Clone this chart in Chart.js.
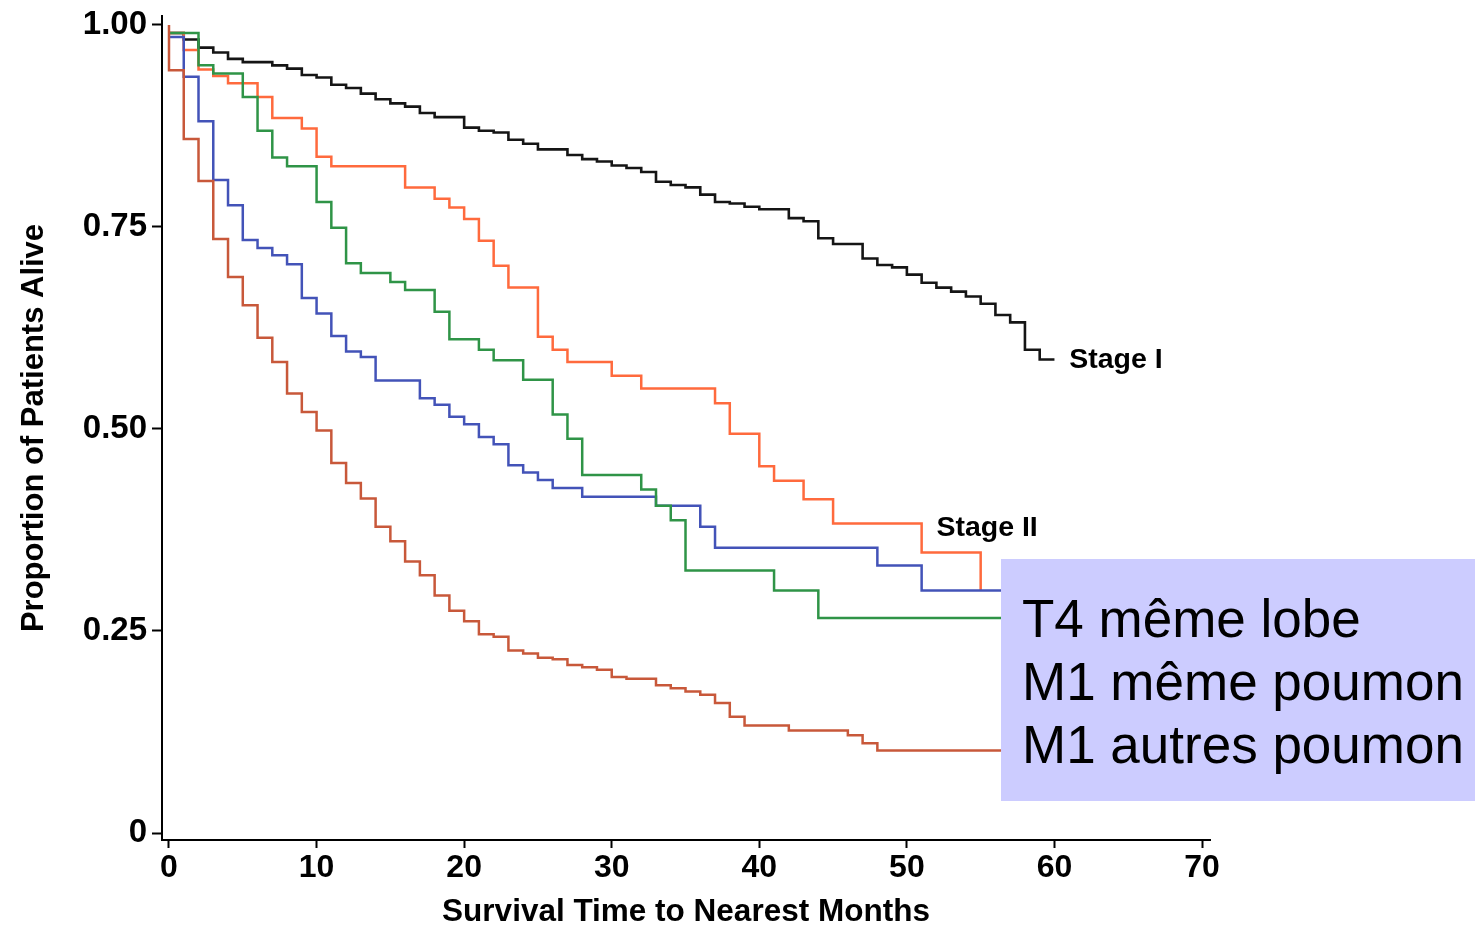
<!DOCTYPE html>
<html><head><meta charset="utf-8">
<script src="https://cdn.jsdelivr.net/npm/chart.js@4"></script>
<style>html,body{margin:0;padding:0;background:#fff;overflow:hidden}</style>
</head><body>
<canvas id="c" width="1475" height="928"></canvas>
<script>
// ---- data (months, survival proportion) ----
const stage1Months = [0,1,2,3,4,5,7,8,9,10,11,12,13,14,15,16,17,18,20,21,22,23,24,25,27,28,29,30,31,32,33,34,35,36,37,38,39,40,42,43,44,45,47,48,49,50,51,52,53,54,55,56,57,58,59,60];
const stage1Surv   = [0.990,0.982,0.972,0.966,0.958,0.954,0.950,0.946,0.938,0.935,0.926,0.922,0.915,0.908,0.903,0.899,0.891,0.886,0.873,0.869,0.867,0.858,0.853,0.846,0.839,0.834,0.831,0.826,0.823,0.818,0.806,0.802,0.799,0.790,0.781,0.779,0.775,0.772,0.761,0.757,0.736,0.729,0.711,0.703,0.700,0.691,0.681,0.675,0.670,0.664,0.655,0.641,0.632,0.598,0.586,0.586];

const stage2Months = [0,1,2,3,4,6,7,9,10,11,16,18,19,20,21,22,23,25,26,27,30,32,37,38,40,41,43,45,51,55];
const stage2Surv   = [0.990,0.969,0.945,0.937,0.928,0.911,0.885,0.872,0.837,0.825,0.799,0.785,0.774,0.760,0.733,0.702,0.675,0.614,0.598,0.583,0.566,0.550,0.532,0.494,0.454,0.436,0.413,0.383,0.347,0.300];

const t4SameLobeMonths = [0,2,3,5,6,7,8,10,11,12,13,15,16,18,19,21,22,24,26,27,28,32,33,34,35,41,44,57.5];
const t4SameLobeSurv   = [0.990,0.950,0.940,0.911,0.869,0.836,0.825,0.781,0.749,0.705,0.693,0.682,0.672,0.645,0.611,0.598,0.585,0.561,0.518,0.488,0.443,0.425,0.405,0.387,0.325,0.300,0.266,0.266];

const m1SameLungMonths = [0,1,2,3,4,5,6,7,8,9,10,11,12,13,14,17,18,19,20,21,22,23,24,25,26,28,33,36,37,48,51,57.5];
const m1SameLungSurv   = [0.985,0.936,0.881,0.808,0.777,0.734,0.724,0.715,0.704,0.662,0.643,0.615,0.596,0.589,0.560,0.538,0.530,0.515,0.506,0.490,0.481,0.455,0.446,0.437,0.427,0.416,0.405,0.379,0.353,0.331,0.300,0.300];

const m1OtherLungMonths = [0,0,1,2,3,4,5,6,7,8,9,10,11,12,13,14,15,16,17,18,19,20,21,22,23,24,25,26,27,28,29,30,31,33,34,35,36,37,38,39,42,46,47,48,57.5];
const m1OtherLungSurv   = [1.0,0.944,0.859,0.807,0.735,0.688,0.653,0.613,0.583,0.544,0.521,0.498,0.458,0.433,0.414,0.379,0.361,0.336,0.319,0.294,0.275,0.262,0.246,0.243,0.226,0.222,0.217,0.215,0.208,0.205,0.202,0.193,0.191,0.183,0.179,0.175,0.171,0.161,0.144,0.133,0.127,0.121,0.111,0.102,0.102];

const xTicks = [0,10,20,30,40,50,60,70];
const yTicks = [0,0.25,0.5,0.75,1];
const yTickLabels = ['0','0.25','0.50','0.75','1.00'];
const curveLabels = ['Stage I','Stage II'];
const boxLines = ['T4 même lobe','M1 même poumon','M1 autres poumon'];
const xTitle = 'Survival Time to Nearest Months';
const yTitle = 'Proportion of Patients Alive';

// ---- helpers / styles ----
const FONT = '"Liberation Sans",Arial,sans-serif';
function pts(m, s) { return m.map((x, i) => ({x: x, y: s[i]})); }
function ds(label, m, s, color, w) {
  return {label: label, data: pts(m, s), borderColor: color, backgroundColor: color,
          borderWidth: w, stepped: 'before', pointRadius: 0, fill: false, tension: 0};
}
function noPad(s) { s.paddingTop = 0; s.paddingBottom = 0; s.paddingLeft = 0; s.paddingRight = 0; }

const annotate = {
  id: 'annotate',
  afterDatasetsDraw(chart) {
    const ctx = chart.ctx, xs = chart.scales.x, ys = chart.scales.y;
    ctx.save();
    ctx.fillStyle = '#000';
    ctx.font = 'bold 28.5px ' + FONT;
    ctx.textBaseline = 'middle';
    ctx.textAlign = 'left';
    ctx.fillText(curveLabels[0], xs.getPixelForValue(61.0), ys.getPixelForValue(0.585));
    ctx.fillText(curveLabels[1], xs.getPixelForValue(52.0), ys.getPixelForValue(0.377));
    ctx.restore();
  },
  afterDraw(chart) {
    const ctx = chart.ctx;
    ctx.save();
    ctx.fillStyle = '#ccccff';
    ctx.fillRect(1001, 559, 474, 242);
    ctx.fillStyle = '#000';
    ctx.font = '53px ' + FONT;
    ctx.textBaseline = 'alphabetic';
    ctx.textAlign = 'left';
    boxLines.forEach((t, i) => ctx.fillText(t, 1022, 637 + i * 63));
    ctx.restore();
  }
};

new Chart(document.getElementById('c').getContext('2d'), {
  type: 'line',
  data: {datasets: [
    ds('M1 autres poumon', m1OtherLungMonths, m1OtherLungSurv, '#c8583a', 2.5),
    ds('T4 même lobe', t4SameLobeMonths, t4SameLobeSurv, '#2f9447', 2.5),
    ds('M1 même poumon', m1SameLungMonths, m1SameLungSurv, '#4353b8', 2.5),
    ds('Stage II', stage2Months, stage2Surv, '#ff6a3d', 2.5),
    ds('Stage I', stage1Months, stage1Surv, '#151515', 2.6)
  ]},
  options: {
    responsive: false,
    animation: false,
    events: [],
    layout: {padding: {left: 0, top: 16, right: 265, bottom: 0}},
    plugins: {legend: {display: false}, tooltip: {enabled: false}},
    scales: {
      x: {
        type: 'linear', min: -0.474, max: 70.54,
        afterBuildTicks: s => { s.ticks = xTicks.map(v => ({value: v})); },
        afterFit: s => { s.height = 88; noPad(s); },
        ticks: {color: '#000', font: {family: FONT, size: 32, weight: 'bold'}, padding: 1,
                maxRotation: 0, autoSkip: false, callback: v => String(v)},
        grid: {drawOnChartArea: false, drawTicks: true, tickLength: 8, color: '#000', tickWidth: 2},
        border: {display: true, color: '#000', width: 2},
        title: {display: true, text: xTitle, color: '#000',
                font: {family: FONT, size: 31.5, weight: 'bold', lineHeight: 1}, padding: 0}
      },
      y: {
        type: 'linear', min: -0.00866, max: 1.0111,
        afterBuildTicks: s => { s.ticks = yTicks.map(v => ({value: v})); },
        afterFit: s => { s.width = 162; noPad(s); },
        ticks: {color: '#000', font: {family: FONT, size: 33, weight: 'bold'}, padding: 5,
                autoSkip: false, callback: v => yTickLabels[yTicks.indexOf(v)]},
        grid: {drawOnChartArea: false, drawTicks: true, tickLength: 10, color: '#000', tickWidth: 2},
        border: {display: true, color: '#000', width: 2},
        title: {display: true, text: yTitle, color: '#000',
                font: {family: FONT, size: 31, weight: 'bold', lineHeight: 1}, padding: {top: 19, bottom: 0}}
      }
    }
  },
  plugins: [annotate]
});
</script>
</body></html>
